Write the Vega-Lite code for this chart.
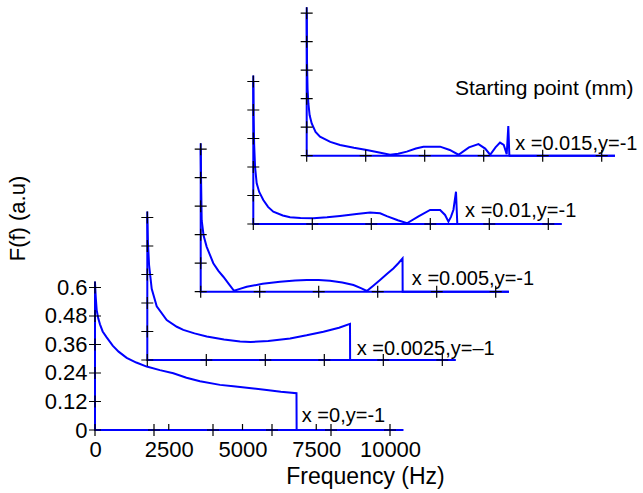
{
  "$schema": "https://vega.github.io/schema/vega-lite/v6.json",
  "width": 548,
  "height": 430,
  "autosize": "none",
  "padding": {"left": 95, "top": 0, "right": 0, "bottom": 63},
  "background": "white",
  "config": {
    "view": {"stroke": null},
    "axis": {"labelFont": "Liberation Sans", "titleFont": "Liberation Sans", "labelColor": "black", "titleColor": "black", "domain": false, "ticks": false, "grid": false, "labelOverlap": false, "labelFlush": false, "titleFontWeight": "normal"}
  },
  "datasets": {
    "lines": [
      {"p":1,"s":"a","f":0,"F":0.625},{"p":1,"s":"a","f":0,"F":0},{"p":1,"s":"a","f":10450,"F":0},
      {"p":2,"s":"a","f":0,"F":0.625},{"p":2,"s":"a","f":0,"F":0},{"p":2,"s":"a","f":10450,"F":0},
      {"p":3,"s":"a","f":0,"F":0.625},{"p":3,"s":"a","f":0,"F":0},{"p":3,"s":"a","f":10450,"F":0},
      {"p":4,"s":"a","f":0,"F":0.625},{"p":4,"s":"a","f":0,"F":0},{"p":4,"s":"a","f":10450,"F":0},
      {"p":5,"s":"a","f":0,"F":0.625},{"p":5,"s":"a","f":0,"F":0},{"p":5,"s":"a","f":10450,"F":0},
      {"p":1,"s":"c","f":0,"F":0.62},{"p":1,"s":"c","f":25,"F":0.56},{"p":1,"s":"c","f":57,"F":0.505},{"p":1,"s":"c","f":110,"F":0.47},{"p":1,"s":"c","f":169,"F":0.445},{"p":1,"s":"c","f":260,"F":0.415},{"p":1,"s":"c","f":396,"F":0.39},{"p":1,"s":"c","f":600,"F":0.355},{"p":1,"s":"c","f":800,"F":0.33},{"p":1,"s":"c","f":1074,"F":0.304},{"p":1,"s":"c","f":1400,"F":0.284},{"p":1,"s":"c","f":1752,"F":0.267},{"p":1,"s":"c","f":2200,"F":0.252},{"p":1,"s":"c","f":2655,"F":0.239},{"p":1,"s":"c","f":3100,"F":0.22},{"p":1,"s":"c","f":3559,"F":0.205},{"p":1,"s":"c","f":4237,"F":0.19},{"p":1,"s":"c","f":4690,"F":0.184},{"p":1,"s":"c","f":5300,"F":0.176},{"p":1,"s":"c","f":5820,"F":0.168},{"p":1,"s":"c","f":6300,"F":0.161},{"p":1,"s":"c","f":6830,"F":0.155},{"p":1,"s":"c","f":6835,"F":0},{"p":1,"s":"c","f":10450,"F":0},
      {"p":2,"s":"c","f":0,"F":0.6},{"p":2,"s":"c","f":20,"F":0.5},{"p":2,"s":"c","f":60,"F":0.4},{"p":2,"s":"c","f":149,"F":0.3},{"p":2,"s":"c","f":319,"F":0.226},{"p":2,"s":"c","f":658,"F":0.168},{"p":2,"s":"c","f":1000,"F":0.14},{"p":2,"s":"c","f":1221,"F":0.127},{"p":2,"s":"c","f":1600,"F":0.112},{"p":2,"s":"c","f":2015,"F":0.099},{"p":2,"s":"c","f":2600,"F":0.086},{"p":2,"s":"c","f":3145,"F":0.078},{"p":2,"s":"c","f":3500,"F":0.076},{"p":2,"s":"c","f":4100,"F":0.08},{"p":2,"s":"c","f":4841,"F":0.091},{"p":2,"s":"c","f":5400,"F":0.104},{"p":2,"s":"c","f":5970,"F":0.119},{"p":2,"s":"c","f":6500,"F":0.136},{"p":2,"s":"c","f":6871,"F":0.152},{"p":2,"s":"c","f":6875,"F":0},{"p":2,"s":"c","f":10450,"F":0},
      {"p":3,"s":"c","f":0,"F":0.6},{"p":3,"s":"c","f":15,"F":0.45},{"p":3,"s":"c","f":34,"F":0.3},{"p":3,"s":"c","f":100,"F":0.235},{"p":3,"s":"c","f":203,"F":0.189},{"p":3,"s":"c","f":427,"F":0.12},{"p":3,"s":"c","f":600,"F":0.088},{"p":3,"s":"c","f":767,"F":0.063},{"p":3,"s":"c","f":950,"F":0.033},{"p":3,"s":"c","f":1130,"F":0.004},{"p":3,"s":"c","f":1300,"F":0.011},{"p":3,"s":"c","f":1560,"F":0.021},{"p":3,"s":"c","f":2100,"F":0.033},{"p":3,"s":"c","f":2690,"F":0.042},{"p":3,"s":"c","f":3200,"F":0.047},{"p":3,"s":"c","f":3595,"F":0.049},{"p":3,"s":"c","f":4000,"F":0.049},{"p":3,"s":"c","f":4385,"F":0.046},{"p":3,"s":"c","f":4800,"F":0.039},{"p":3,"s":"c","f":5180,"F":0.028},{"p":3,"s":"c","f":5450,"F":0.014},{"p":3,"s":"c","f":5630,"F":0.003},{"p":3,"s":"c","f":5850,"F":0.025},{"p":3,"s":"c","f":6080,"F":0.049},{"p":3,"s":"c","f":6300,"F":0.073},{"p":3,"s":"c","f":6530,"F":0.098},{"p":3,"s":"c","f":6700,"F":0.12},{"p":3,"s":"c","f":6842,"F":0.14},{"p":3,"s":"c","f":6846,"F":0},{"p":3,"s":"c","f":10450,"F":0},
      {"p":4,"s":"c","f":0,"F":0.6},{"p":4,"s":"c","f":10,"F":0.45},{"p":4,"s":"c","f":30,"F":0.33},{"p":4,"s":"c","f":60,"F":0.24},{"p":4,"s":"c","f":115,"F":0.171},{"p":4,"s":"c","f":200,"F":0.135},{"p":4,"s":"c","f":339,"F":0.101},{"p":4,"s":"c","f":500,"F":0.072},{"p":4,"s":"c","f":678,"F":0.052},{"p":4,"s":"c","f":1000,"F":0.036},{"p":4,"s":"c","f":1245,"F":0.028},{"p":4,"s":"c","f":1600,"F":0.025},{"p":4,"s":"c","f":2035,"F":0.024},{"p":4,"s":"c","f":2500,"F":0.028},{"p":4,"s":"c","f":2941,"F":0.034},{"p":4,"s":"c","f":3500,"F":0.042},{"p":4,"s":"c","f":3958,"F":0.048},{"p":4,"s":"c","f":4300,"F":0.045},{"p":4,"s":"c","f":4525,"F":0.033},{"p":4,"s":"c","f":4900,"F":0.016},{"p":4,"s":"c","f":5210,"F":0.003},{"p":4,"s":"c","f":5600,"F":0.032},{"p":4,"s":"c","f":5994,"F":0.059},{"p":4,"s":"c","f":6333,"F":0.059},{"p":4,"s":"c","f":6500,"F":0.038},{"p":4,"s":"c","f":6615,"F":0.01},{"p":4,"s":"c","f":6700,"F":0.03},{"p":4,"s":"c","f":6785,"F":0.06},{"p":4,"s":"c","f":6871,"F":0.136},{"p":4,"s":"c","f":6915,"F":0},{"p":4,"s":"c","f":10450,"F":0},
      {"p":5,"s":"c","f":0,"F":0.6},{"p":5,"s":"c","f":10,"F":0.4},{"p":5,"s":"c","f":30,"F":0.28},{"p":5,"s":"c","f":57,"F":0.22},{"p":5,"s":"c","f":100,"F":0.17},{"p":5,"s":"c","f":170,"F":0.136},{"p":5,"s":"c","f":300,"F":0.1},{"p":5,"s":"c","f":451,"F":0.08},{"p":5,"s":"c","f":800,"F":0.058},{"p":5,"s":"c","f":1130,"F":0.045},{"p":5,"s":"c","f":1600,"F":0.033},{"p":5,"s":"c","f":2035,"F":0.024},{"p":5,"s":"c","f":2500,"F":0.012},{"p":5,"s":"c","f":2826,"F":0.004},{"p":5,"s":"c","f":3100,"F":0.008},{"p":5,"s":"c","f":3392,"F":0.017},{"p":5,"s":"c","f":3700,"F":0.03},{"p":5,"s":"c","f":3957,"F":0.038},{"p":5,"s":"c","f":4522,"F":0.038},{"p":5,"s":"c","f":4850,"F":0.024},{"p":5,"s":"c","f":5145,"F":0.004},{"p":5,"s":"c","f":5500,"F":0.035},{"p":5,"s":"c","f":5822,"F":0.049},{"p":5,"s":"c","f":6050,"F":0.03},{"p":5,"s":"c","f":6218,"F":0.004},{"p":5,"s":"c","f":6400,"F":0.035},{"p":5,"s":"c","f":6553,"F":0.055},{"p":5,"s":"c","f":6680,"F":0.045},{"p":5,"s":"c","f":6780,"F":0.006},{"p":5,"s":"c","f":6834,"F":0.125},{"p":5,"s":"c","f":6868,"F":0.006},{"p":5,"s":"c","f":6880,"F":0},{"p":5,"s":"c","f":10450,"F":0}
    ],
    "ticks": [
      {"p":1,"f":0,"F":0},{"p":1,"f":2000,"F":0},{"p":1,"f":4000,"F":0},{"p":1,"f":6000,"F":0},{"p":1,"f":8000,"F":0},{"p":1,"f":10000,"F":0},{"p":1,"f":0,"F":0.12},{"p":1,"f":0,"F":0.24},{"p":1,"f":0,"F":0.36},{"p":1,"f":0,"F":0.48},{"p":1,"f":0,"F":0.6},
      {"p":2,"f":0,"F":0},{"p":2,"f":2000,"F":0},{"p":2,"f":4000,"F":0},{"p":2,"f":6000,"F":0},{"p":2,"f":8000,"F":0},{"p":2,"f":10000,"F":0},{"p":2,"f":0,"F":0.12},{"p":2,"f":0,"F":0.24},{"p":2,"f":0,"F":0.36},{"p":2,"f":0,"F":0.48},{"p":2,"f":0,"F":0.6},
      {"p":3,"f":0,"F":0},{"p":3,"f":2000,"F":0},{"p":3,"f":4000,"F":0},{"p":3,"f":6000,"F":0},{"p":3,"f":8000,"F":0},{"p":3,"f":10000,"F":0},{"p":3,"f":0,"F":0.12},{"p":3,"f":0,"F":0.24},{"p":3,"f":0,"F":0.36},{"p":3,"f":0,"F":0.48},{"p":3,"f":0,"F":0.6},
      {"p":4,"f":0,"F":0},{"p":4,"f":2000,"F":0},{"p":4,"f":4000,"F":0},{"p":4,"f":6000,"F":0},{"p":4,"f":8000,"F":0},{"p":4,"f":10000,"F":0},{"p":4,"f":0,"F":0.12},{"p":4,"f":0,"F":0.24},{"p":4,"f":0,"F":0.36},{"p":4,"f":0,"F":0.48},{"p":4,"f":0,"F":0.6},
      {"p":5,"f":0,"F":0},{"p":5,"f":2000,"F":0},{"p":5,"f":4000,"F":0},{"p":5,"f":6000,"F":0},{"p":5,"f":8000,"F":0},{"p":5,"f":10000,"F":0},{"p":5,"f":0,"F":0.12},{"p":5,"f":0,"F":0.24},{"p":5,"f":0,"F":0.36},{"p":5,"f":0,"F":0.48},{"p":5,"f":0,"F":0.6}
    ],
    "minor": [{"f":2500,"F":0},{"f":5000,"F":0},{"f":7500,"F":0}],
    "labels": [
      {"p":1,"f":7010,"F":0.035,"t":"x =0,y=-1"},
      {"p":2,"f":7100,"F":0.021,"t":"x =0.0025,y=–1"},
      {"p":3,"f":7157,"F":0.028,"t":"x =0.005,y=-1"},
      {"p":4,"f":7180,"F":0.031,"t":"x =0.01,y=-1"},
      {"p":5,"f":7066,"F":0.024,"t":"x =0.015,y=-1"}
    ],
    "notes": [{"f":5027,"F":0.256,"t":"Starting point (mm)"}]
  },
  "layer": [
    {
      "encoding": {
        "x": {"field":"f","type":"quantitative","scale":{"domain":[0,18576],"nice":false,"zero":false},
              "axis":{"title":"Frequency (Hz)","values":[0,2500,5000,7500,10000],"format":"d","labelFontSize":22,"labelPadding":9,"titleFontSize":23,"titleX":270,"titleY":53,"titleAlign":"center","titleBaseline":"alphabetic"}},
        "y": {"field":"F","type":"quantitative","scale":{"domain":[0,1.8105],"nice":false,"zero":false},
              "axis":{"title":"F(f) (a.u)","values":[0,0.12,0.24,0.36,0.48,0.6],"format":"~g","labelFontSize":22,"labelPadding":8,"titleFontSize":22,"titleAngle":-90,"titleX":-71,"titleY":218,"titleAlign":"center","titleBaseline":"alphabetic"}}
      },
      "layer": [
        {"data":{"name":"lines"},"transform":[{"filter":"datum.p==1"}],"mark":{"type":"line","color":"#0000ff","strokeWidth":2},"encoding":{"detail":{"field":"s"},"order":{"value":null}}},
        {"data":{"name":"ticks"},"transform":[{"filter":"datum.p==1"}],"mark":{"type":"point","shape":"M-1,0H1M0,-1V1","size":144,"filled":false,"color":"black","strokeWidth":1.2,"opacity":1}},
        {"data":{"name":"minor"},"mark":{"type":"point","shape":"M0,0V-1","size":144,"filled":false,"color":"black","strokeWidth":1.2,"opacity":1}},
        {"data":{"name":"labels"},"transform":[{"filter":"datum.p==1"}],"mark":{"type":"text","align":"left","baseline":"alphabetic","font":"Liberation Sans","fontSize":20,"color":"black"},"encoding":{"text":{"field":"t"}}}
      ]
    },
    {
      "encoding": {
        "x": {"field":"f","type":"quantitative","scale":{"domain":[-1773,16803],"nice":false,"zero":false},"axis":null},
        "y": {"field":"F","type":"quantitative","scale":{"domain":[-0.2947,1.5158],"nice":false,"zero":false},"axis":null}
      },
      "layer": [
        {"data":{"name":"lines"},"transform":[{"filter":"datum.p==2"}],"mark":{"type":"line","color":"#0000ff","strokeWidth":2},"encoding":{"detail":{"field":"s"},"order":{"value":null}}},
        {"data":{"name":"ticks"},"transform":[{"filter":"datum.p==2"}],"mark":{"type":"point","shape":"M-1,0H1M0,-1V1","size":144,"filled":false,"color":"black","strokeWidth":1.2,"opacity":1}},
        {"data":{"name":"labels"},"transform":[{"filter":"datum.p==2"}],"mark":{"type":"text","align":"left","baseline":"alphabetic","font":"Liberation Sans","fontSize":20,"color":"black"},"encoding":{"text":{"field":"t"}}}
      ]
    },
    {
      "encoding": {
        "x": {"field":"f","type":"quantitative","scale":{"domain":[-3583,14993],"nice":false,"zero":false},"axis":null},
        "y": {"field":"F","type":"quantitative","scale":{"domain":[-0.5823,1.2282],"nice":false,"zero":false},"axis":null}
      },
      "layer": [
        {"data":{"name":"lines"},"transform":[{"filter":"datum.p==3"}],"mark":{"type":"line","color":"#0000ff","strokeWidth":2},"encoding":{"detail":{"field":"s"},"order":{"value":null}}},
        {"data":{"name":"ticks"},"transform":[{"filter":"datum.p==3"}],"mark":{"type":"point","shape":"M-1,0H1M0,-1V1","size":144,"filled":false,"color":"black","strokeWidth":1.2,"opacity":1}},
        {"data":{"name":"labels"},"transform":[{"filter":"datum.p==3"}],"mark":{"type":"text","align":"left","baseline":"alphabetic","font":"Liberation Sans","fontSize":20,"color":"black"},"encoding":{"text":{"field":"t"}}}
      ]
    },
    {
      "encoding": {
        "x": {"field":"f","type":"quantitative","scale":{"domain":[-5366,13210],"nice":false,"zero":false},"axis":null},
        "y": {"field":"F","type":"quantitative","scale":{"domain":[-0.8674,0.9431],"nice":false,"zero":false},"axis":null}
      },
      "layer": [
        {"data":{"name":"lines"},"transform":[{"filter":"datum.p==4"}],"mark":{"type":"line","color":"#0000ff","strokeWidth":2},"encoding":{"detail":{"field":"s"},"order":{"value":null}}},
        {"data":{"name":"ticks"},"transform":[{"filter":"datum.p==4"}],"mark":{"type":"point","shape":"M-1,0H1M0,-1V1","size":144,"filled":false,"color":"black","strokeWidth":1.2,"opacity":1}},
        {"data":{"name":"labels"},"transform":[{"filter":"datum.p==4"}],"mark":{"type":"text","align":"left","baseline":"alphabetic","font":"Liberation Sans","fontSize":20,"color":"black"},"encoding":{"text":{"field":"t"}}}
      ]
    },
    {
      "encoding": {
        "x": {"field":"f","type":"quantitative","scale":{"domain":[-7176,11400],"nice":false,"zero":false},"axis":null},
        "y": {"field":"F","type":"quantitative","scale":{"domain":[-1.155,0.6555],"nice":false,"zero":false},"axis":null}
      },
      "layer": [
        {"data":{"name":"lines"},"transform":[{"filter":"datum.p==5"}],"mark":{"type":"line","color":"#0000ff","strokeWidth":2},"encoding":{"detail":{"field":"s"},"order":{"value":null}}},
        {"data":{"name":"ticks"},"transform":[{"filter":"datum.p==5"}],"mark":{"type":"point","shape":"M-1,0H1M0,-1V1","size":144,"filled":false,"color":"black","strokeWidth":1.2,"opacity":1}},
        {"data":{"name":"labels"},"transform":[{"filter":"datum.p==5"}],"mark":{"type":"text","align":"left","baseline":"alphabetic","font":"Liberation Sans","fontSize":20,"color":"black"},"encoding":{"text":{"field":"t"}}},
        {"data":{"name":"notes"},"mark":{"type":"text","align":"left","baseline":"alphabetic","font":"Liberation Sans","fontSize":21,"color":"black"},"encoding":{"text":{"field":"t"}}}
      ]
    }
  ],
  "resolve": {"scale": {"x": "independent", "y": "independent"}}
}
